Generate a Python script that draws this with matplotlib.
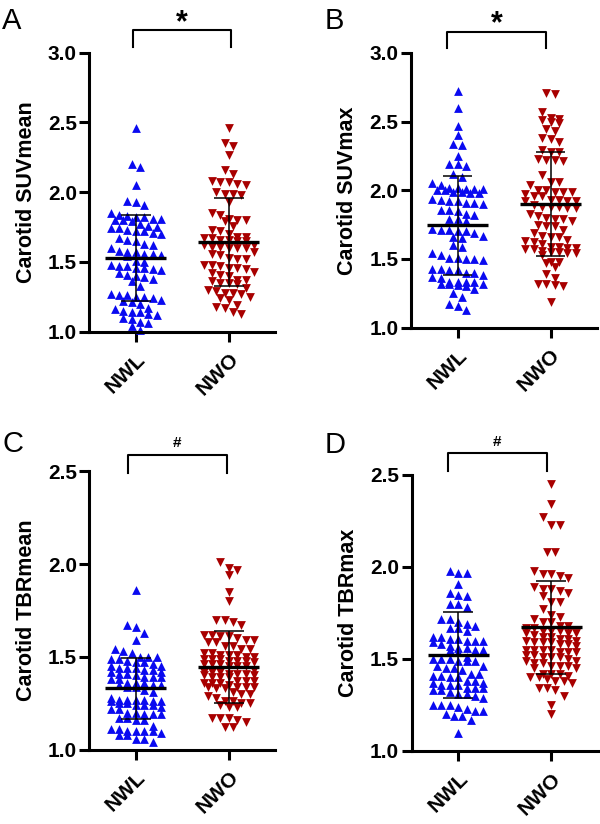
import numpy as np
import matplotlib
matplotlib.use("Agg")
import matplotlib.pyplot as plt

plt.rcParams['font.family'] = ['Liberation Sans', 'DejaVu Sans']

groups = ['NWL', 'NWO']

suvmean_nwl = [2.46, 2.20, 2.18, 2.05, 1.94, 1.93, 1.91,
               1.85, 1.84, 1.83, 1.82, 1.82, 1.81, 1.81, 1.80, 1.80, 1.79,
               1.77, 1.76, 1.75, 1.74, 1.74, 1.73, 1.72, 1.72, 1.71, 1.70,
               1.67, 1.66, 1.65, 1.63, 1.62, 1.60,
               1.58, 1.57, 1.57, 1.56, 1.56, 1.55, 1.54,
               1.51, 1.50,
               1.48, 1.47, 1.47, 1.46, 1.46, 1.45, 1.44,
               1.42, 1.41, 1.40, 1.39, 1.38,
               1.36, 1.33,
               1.27, 1.26, 1.26, 1.25, 1.25, 1.24, 1.23,
               1.22, 1.21, 1.20,
               1.17, 1.16, 1.15, 1.14, 1.14, 1.13, 1.12,
               1.10, 1.09, 1.07, 1.06, 1.04, 1.01]
suvmean_nwo = [2.46, 2.35, 2.33, 2.27, 2.16, 2.13,
               2.08, 2.07, 2.07, 2.06, 2.05,
               2.00, 1.99, 1.99, 1.98,
               1.93,
               1.85, 1.84,
               1.81, 1.80, 1.80, 1.79,
               1.76, 1.73, 1.72, 1.70,
               1.68, 1.68, 1.67, 1.67, 1.66, 1.66, 1.65, 1.65,
               1.62, 1.62, 1.61, 1.61, 1.60, 1.60, 1.60,
               1.57, 1.56, 1.55,
               1.53, 1.52, 1.52,
               1.48, 1.48, 1.47, 1.46, 1.46, 1.45,
               1.43, 1.42, 1.41, 1.40,
               1.37, 1.37, 1.36, 1.35, 1.35, 1.34,
               1.31, 1.30, 1.29, 1.28, 1.28, 1.27,
               1.25, 1.24, 1.23,
               1.19, 1.18, 1.17,
               1.14, 1.13]

suvmax_nwl = [2.72, 2.60, 2.47, 2.40, 2.34, 2.33, 2.25, 2.19, 2.19, 2.18, 2.12, 2.10, 2.05, 2.04,
              2.02, 2.02, 2.01, 2.01, 2.01, 2.00, 2.00,
              1.99, 1.99, 1.98, 1.98,
              1.94, 1.93,
              1.92, 1.92, 1.91, 1.91, 1.90,
              1.86, 1.86, 1.85, 1.83, 1.82,
              1.79, 1.79, 1.78,
              1.72, 1.71, 1.71, 1.70, 1.70, 1.69,
              1.67, 1.66, 1.65,
              1.60, 1.59,
              1.54, 1.53, 1.51, 1.51, 1.50, 1.50, 1.49,
              1.43, 1.43, 1.42, 1.42, 1.40, 1.40,
              1.38, 1.37, 1.36,
              1.33, 1.33, 1.33, 1.33, 1.32, 1.32, 1.32,
              1.31, 1.30, 1.28, 1.25, 1.22, 1.17, 1.16, 1.13]
suvmax_nwo = [2.71, 2.70, 2.57, 2.53, 2.52, 2.51, 2.50, 2.49, 2.45, 2.43, 2.38, 2.37, 2.35,
              2.29, 2.28, 2.28, 2.23, 2.22, 2.22, 2.21,
              2.11, 2.06, 2.06, 2.04,
              2.00, 2.00, 1.99, 1.99, 1.99,
              1.97, 1.96, 1.96,
              1.93, 1.93, 1.92, 1.92, 1.92,
              1.89, 1.88, 1.88, 1.88, 1.87, 1.87,
              1.83, 1.81, 1.80, 1.79, 1.79, 1.78,
              1.75, 1.74, 1.74, 1.71, 1.69,
              1.67, 1.66, 1.66, 1.64, 1.63, 1.62, 1.61,
              1.59, 1.59, 1.58, 1.58, 1.57, 1.57, 1.56,
              1.55, 1.55, 1.54, 1.54, 1.53,
              1.48, 1.48, 1.47, 1.44, 1.39, 1.36,
              1.32, 1.32, 1.31, 1.30, 1.19]

tbrmean_nwl = [1.86, 1.67, 1.66, 1.63, 1.59, 1.54, 1.53, 1.52,
               1.50, 1.50, 1.50, 1.49, 1.49,
               1.48, 1.47, 1.47, 1.46,
               1.45, 1.45, 1.44, 1.44, 1.44, 1.43, 1.43,
               1.42, 1.42, 1.41, 1.41,
               1.40, 1.39, 1.39, 1.39, 1.38, 1.38,
               1.36, 1.36, 1.36, 1.35, 1.35, 1.35, 1.34, 1.34,
               1.32, 1.31,
               1.28, 1.27, 1.27, 1.27, 1.27, 1.26, 1.26, 1.26,
               1.25, 1.25, 1.24, 1.24, 1.24,
               1.23, 1.22, 1.22,
               1.20, 1.20, 1.19, 1.19, 1.19,
               1.17, 1.17, 1.16, 1.16,
               1.13,
               1.11, 1.11, 1.10, 1.10, 1.10, 1.10,
               1.09, 1.08, 1.08, 1.06, 1.06, 1.04]
tbrmean_nwo = [2.01, 1.98, 1.97, 1.94, 1.85, 1.80,
               1.70, 1.70, 1.69, 1.67,
               1.62, 1.62, 1.61, 1.61, 1.60,
               1.59, 1.59, 1.58, 1.58,
               1.56, 1.56, 1.54, 1.54,
               1.52, 1.52, 1.51, 1.51, 1.51, 1.50, 1.50,
               1.49, 1.49, 1.49, 1.48, 1.48, 1.48,
               1.47, 1.46, 1.46, 1.46, 1.45, 1.45, 1.45,
               1.43, 1.42, 1.42, 1.42, 1.41, 1.41, 1.41,
               1.40, 1.40, 1.39, 1.39, 1.39,
               1.37, 1.37, 1.37, 1.36, 1.36, 1.36,
               1.35, 1.34, 1.34, 1.34, 1.34, 1.33, 1.33,
               1.31, 1.30, 1.30, 1.29, 1.28,
               1.26, 1.26, 1.25, 1.25,
               1.24, 1.23, 1.23,
               1.17, 1.17, 1.17, 1.16, 1.15, 1.12, 1.12]

tbrmax_nwl = [1.98, 1.97, 1.97, 1.91, 1.86, 1.85, 1.84, 1.80, 1.80, 1.78,
              1.72, 1.72, 1.70, 1.69, 1.68, 1.67, 1.67, 1.65,
              1.62, 1.62,
              1.61, 1.61, 1.60, 1.60, 1.60, 1.59,
              1.58, 1.57,
              1.56, 1.56, 1.55, 1.55, 1.55, 1.54,
              1.51, 1.50, 1.50, 1.50, 1.49, 1.49, 1.49,
              1.46, 1.46, 1.45, 1.45, 1.44,
              1.42, 1.42, 1.41, 1.41, 1.40, 1.40,
              1.38, 1.38, 1.37, 1.37, 1.36, 1.36, 1.36,
              1.34, 1.34, 1.34, 1.33, 1.33,
              1.32, 1.31, 1.31, 1.30, 1.29,
              1.25, 1.25, 1.25, 1.24,
              1.23, 1.22, 1.22,
              1.20, 1.19, 1.19, 1.17, 1.10]
tbrmax_nwo = [2.45, 2.34, 2.27, 2.23, 2.23, 2.08, 2.08,
              1.98, 1.96, 1.96, 1.95, 1.94,
              1.89, 1.88, 1.88, 1.87, 1.86,
              1.84, 1.81, 1.81, 1.77,
              1.74, 1.73, 1.72, 1.70, 1.70,
              1.68, 1.68, 1.67, 1.67,
              1.65, 1.65, 1.65, 1.64, 1.64, 1.64, 1.63,
              1.62, 1.62, 1.61, 1.61,
              1.60, 1.60, 1.59, 1.59, 1.59, 1.58,
              1.58, 1.57,
              1.55, 1.55, 1.55, 1.55, 1.54, 1.54, 1.54,
              1.52, 1.52, 1.51, 1.51, 1.51, 1.50,
              1.49, 1.49, 1.48, 1.48,
              1.46, 1.46, 1.46, 1.45, 1.45,
              1.42, 1.42, 1.42, 1.41,
              1.40, 1.40, 1.39,
              1.38, 1.38, 1.37,
              1.34, 1.34, 1.33,
              1.30, 1.25, 1.20]

# mean and SD
means = {'A': [1.53, 1.64], 'B': [1.745, 1.90], 'C': [1.33, 1.445], 'D': [1.52, 1.672]}
sds = {'A': [0.31, 0.315], 'B': [0.36, 0.38], 'C': [0.165, 0.195], 'D': [0.233, 0.252]}

ylabels = {'A': 'Carotid SUVmean', 'B': 'Carotid SUVmax',
           'C': 'Carotid TBRmean', 'D': 'Carotid TBRmax'}
yticks = {'A': [1.0, 1.5, 2.0, 2.5, 3.0], 'B': [1.0, 1.5, 2.0, 2.5, 3.0],
          'C': [1.0, 1.5, 2.0, 2.5], 'D': [1.0, 1.5, 2.0, 2.5]}
signif = {'A': '*', 'B': '*', 'C': '#', 'D': '#'}
data = {'A': (suvmean_nwl, suvmean_nwo), 'B': (suvmax_nwl, suvmax_nwo),
        'C': (tbrmean_nwl, tbrmean_nwo), 'D': (tbrmax_nwl, tbrmax_nwo)}

W, H = 600, 824
fig = plt.figure(figsize=(W / 100, H / 100), dpi=100)

# axes rectangles in pixels: left, top, right, bottom
rects = {'A': (89.3, 52.7, 275.3, 331.7),
         'B': (411.0, 53.0, 597.0, 327.6),
         'C': (89.3, 471.3, 275.3, 749.7),
         'D': (411.7, 475.0, 597.7, 751.0)}
# bracket: x left, x right (data), top, leg bottom, symbol y (axes fraction)
brackets = {'A': (-0.035, 1.02, 1.081, 1.022, 1.104),
            'B': (-0.112, 0.95, 1.078, 1.019, 1.106),
            'C': (-0.086, 0.98, 1.0575, 0.994, 1.102),
            'D': (-0.112, 0.95, 1.0786, 1.0145, 1.118)}
letters = {'A': (2, 29), 'B': (325, 29), 'C': (2, 452), 'D': (325, 453)}

blue = '#0a0af0'
red = '#a80000'
marker_px = 8.4


def swarm_offsets(vals, h, max_per_row=7):
    vals = np.asarray(vals)
    order = np.argsort(-vals, kind='stable')
    offs = np.zeros(len(vals))
    rows, cur, start = [], [], None
    for idx in order:
        v = vals[idx]
        if cur and (start - v >= h or len(cur) >= max_per_row):
            rows.append(cur)
            cur = []
        if not cur:
            start = v
        cur.append(idx)
    if cur:
        rows.append(cur)
    for row in rows:
        k = len(row)
        pos = [i - (k - 1) / 2 for i in range(k)]
        for idx, p in zip(row, pos):
            offs[idx] = p
    return offs


for key in ['A', 'B', 'C', 'D']:
    l, t, r, b = rects[key]
    ax = fig.add_axes([l / W, 1 - b / H, (r - l) / W, (b - t) / H])
    yt = yticks[key]
    ymin, ymax = yt[0], yt[-1]
    ax.set_xlim(-0.5, 1.5)
    ax.set_ylim(ymin, ymax)
    px_per_x = (r - l) / 2.0
    px_per_y = (b - t) / (ymax - ymin)
    dx = marker_px / px_per_x
    h = 8.0 / px_per_y
    for gi, vals in enumerate(data[key]):
        offs = swarm_offsets(vals, h)
        ax.scatter(gi + offs * dx, vals, marker='^' if gi == 0 else 'v',
                   s=40, color=blue if gi == 0 else red, linewidths=0,
                   zorder=2, clip_on=False)
        m, sd = means[key][gi], sds[key][gi]
        ax.hlines(m, gi - 0.33, gi + 0.33, color='black', lw=2.4, zorder=3)
        ax.vlines(gi, m - sd, m + sd, color='black', lw=1.1, zorder=3)
        ax.hlines([m - sd, m + sd], gi - 0.16, gi + 0.16, color='black', lw=1.1, zorder=3)

    for s in ['top', 'right']:
        ax.spines[s].set_visible(False)
    for s in ['left', 'bottom']:
        ax.spines[s].set_linewidth(2.2)
    ax.set_yticks(yt)
    ax.set_yticklabels([f'{v:.1f}' for v in yt], fontsize=15, fontweight='bold')
    ax.set_xticks([0, 1])
    ax.set_xticklabels(groups, fontsize=15, fontweight='bold', rotation=45,
                       ha='right', va='top', rotation_mode='anchor')
    ax.tick_params(axis='both', direction='out', length=7, width=2.2, pad=2)
    ax.tick_params(axis='x', pad=6)
    ax.set_ylabel(ylabels[key], fontsize=15.5, fontweight='bold', labelpad=8)

    x0, x1, ytop, ybot, ysym = brackets[key]
    tr = ax.get_xaxis_transform()
    ax.plot([x0, x0, x1, x1], [ybot, ytop, ytop, ybot], color='black', lw=1.5,
            transform=tr, clip_on=False)
    if signif[key] == '*':
        ax.text((x0 + x1) / 2, ysym, '*', transform=tr, ha='center', va='center',
                fontsize=22, fontweight='bold')
    else:
        ax.text((x0 + x1) / 2, ysym, '#', transform=tr, ha='center', va='center',
                fontsize=11, fontweight='bold')

    lx, ly = letters[key]
    fig.text(lx / W, 1 - ly / H, key, fontsize=21, ha='left', va='baseline')

fig.savefig('out.png', dpi=100)
